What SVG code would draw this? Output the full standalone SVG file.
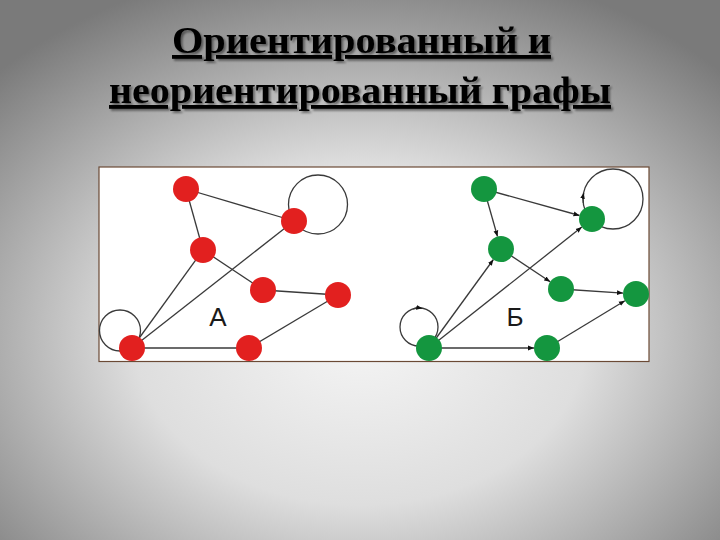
<svg xmlns="http://www.w3.org/2000/svg" width="720" height="540" viewBox="0 0 720 540">
  <defs>
    <radialGradient id="bg" cx="50%" cy="62%" r="70%">
      <stop offset="0" stop-color="#f5f5f5"/>
      <stop offset="0.45" stop-color="#dedede"/>
      <stop offset="1" stop-color="#7a7a7a"/>
    </radialGradient>
    <filter id="shd" x="-5%" y="-20%" width="110%" height="150%">
      <feGaussianBlur in="SourceAlpha" stdDeviation="1"/>
      <feOffset dx="2" dy="2" result="b"/>
      <feComponentTransfer in="b" result="s"><feFuncA type="linear" slope="0.45"/></feComponentTransfer>
      <feMerge><feMergeNode in="s"/><feMergeNode in="SourceGraphic"/></feMerge>
    </filter>
    <marker id="arr" viewBox="0 0 10 10" refX="10" refY="5" markerWidth="6" markerHeight="6" markerUnits="userSpaceOnUse" orient="auto">
      <path d="M0,1 L10,5 L0,9 Z" fill="#111"/>
    </marker>
    <style>
      .title{font-weight:bold;font-size:38px;text-anchor:middle;text-decoration:underline;fill:#000}
      .edge{stroke:#3a3a3a;stroke-width:1.3;fill:none}
      .loop{stroke:#3a3a3a;stroke-width:1.3;fill:none}
      .red{fill:#e2201f}
      .green{fill:#14963f}
      .lbl{font-size:26px;fill:#1a1a1a;text-anchor:middle}
    </style>
  </defs>
  <rect x="0" y="0" width="720" height="540" fill="url(#bg)"/>

  <g id="title" filter="url(#shd)">
    <text class="title" font-family="Liberation Serif, DejaVu Serif, serif" x="361.5" y="53" textLength="379" lengthAdjust="spacingAndGlyphs">Ориентированный и</text>
    <text class="title" font-family="Liberation Serif, DejaVu Serif, serif" x="360" y="103" textLength="502" lengthAdjust="spacingAndGlyphs">неориентированный графы</text>
  </g>

  <rect id="panel" x="99" y="167" width="550" height="194.5" fill="#ffffff" stroke="#6b4a35" stroke-width="1.2"/>

  <!-- Graph A (undirected) -->
  <g id="connectors-A">
    <line class="edge" x1="186" y1="189" x2="294" y2="221"/>
    <line class="edge" x1="186" y1="189" x2="203" y2="250"/>
    <line class="edge" x1="203" y1="250" x2="263" y2="290"/>
    <line class="edge" x1="263" y1="290" x2="338" y2="295"/>
    <line class="edge" x1="132" y1="348" x2="203" y2="250"/>
    <line class="edge" x1="132" y1="348" x2="294" y2="221"/>
    <line class="edge" x1="132" y1="348" x2="249" y2="348"/>
    <line class="edge" x1="249" y1="348" x2="338" y2="295"/>
    <circle class="loop" cx="318" cy="204.5" r="29.5"/>
    <circle class="loop" cx="120" cy="330.5" r="20.5"/>
  </g>
  <g id="A1"><circle class="red" cx="186" cy="189" r="13"/></g>
  <g id="A2"><circle class="red" cx="294" cy="221" r="13"/></g>
  <g id="A3"><circle class="red" cx="203" cy="250" r="13"/></g>
  <g id="A4"><circle class="red" cx="263" cy="290" r="13"/></g>
  <g id="A5"><circle class="red" cx="338" cy="295" r="13"/></g>
  <g id="A6"><circle class="red" cx="132" cy="348" r="13"/></g>
  <g id="A7"><circle class="red" cx="249" cy="348" r="13"/></g>
  <text class="lbl" font-family="Liberation Sans, Arial, sans-serif" x="218" y="326">А</text>

  <!-- Graph B (directed) -->
  <g id="connectors-B">
    <line class="edge" x1="484" y1="189" x2="579.5" y2="215.5" marker-end="url(#arr)"/>
    <line class="edge" x1="484" y1="189" x2="497.5" y2="236.5" marker-end="url(#arr)"/>
    <line class="edge" x1="501" y1="249" x2="550.2" y2="281.8" marker-end="url(#arr)"/>
    <line class="edge" x1="561" y1="289" x2="623" y2="293.1" marker-end="url(#arr)"/>
    <line class="edge" x1="429" y1="348" x2="493.4" y2="259.5" marker-end="url(#arr)"/>
    <line class="edge" x1="429" y1="348" x2="581.8" y2="227.1" marker-end="url(#arr)"/>
    <line class="edge" x1="429" y1="348" x2="534" y2="348" marker-end="url(#arr)"/>
    <line class="edge" x1="547" y1="348" x2="624.9" y2="300.7" marker-end="url(#arr)"/>
    <circle class="loop" cx="613" cy="199" r="30"/>
    <path class="loop" d="M583.3,203 A30,30 0 0 1 583.7,192.8" marker-end="url(#arr)"/>
    <circle class="loop" cx="419" cy="327" r="19"/>
    <path class="loop" d="M413,309 A19,19 0 0 1 422.3,308.3" marker-end="url(#arr)"/>
  </g>
  <g id="B1"><circle class="green" cx="484" cy="189" r="13"/></g>
  <g id="B2"><circle class="green" cx="592" cy="219" r="13"/></g>
  <g id="B3"><circle class="green" cx="501" cy="249" r="13"/></g>
  <g id="B4"><circle class="green" cx="561" cy="289" r="13"/></g>
  <g id="B5"><circle class="green" cx="636" cy="294" r="13"/></g>
  <g id="B6"><circle class="green" cx="429" cy="348" r="13"/></g>
  <g id="B7"><circle class="green" cx="547" cy="348" r="13"/></g>
  <text class="lbl" font-family="Liberation Sans, Arial, sans-serif" x="515" y="326">Б</text>
</svg>
